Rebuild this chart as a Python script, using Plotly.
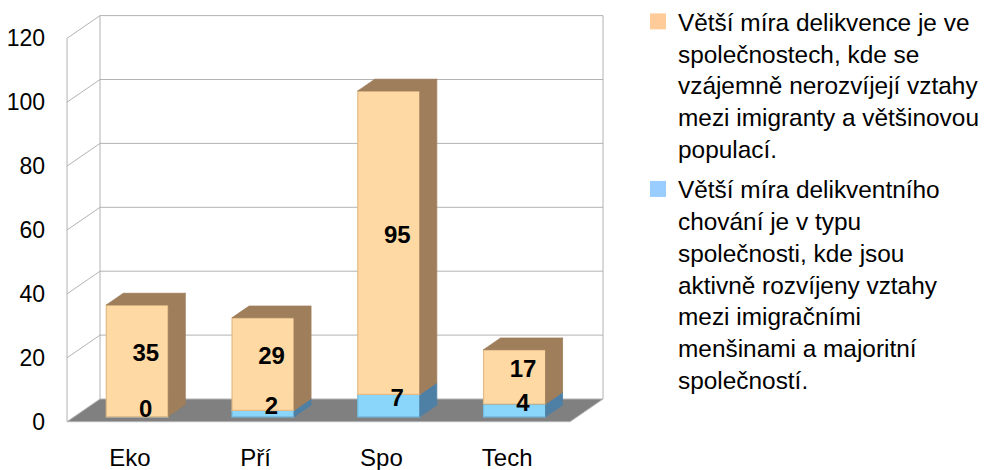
import plotly.graph_objects as go

# ---------------- data ----------------
categories = ["Eko", "Pří", "Spo", "Tech"]
blue_values = [0, 2, 7, 4]
orange_values = [35, 29, 95, 17]
y_ticks = [0, 20, 40, 60, 80, 100, 120]
orange_name = ("Větší míra delikvence je ve<br>společnostech, kde se<br>"
               "vzájemně nerozvíjejí vztahy<br>mezi imigranty a většinovou<br>populací.")
blue_name = ("Větší míra delikventního<br>chování je v typu<br>společnosti, kde jsou<br>"
             "aktivně rozvíjeny vztahy<br>mezi imigračními<br>menšinami a majoritní<br>společností.")

# ---------------- geometry (pixels, page has an 8px body margin) ----------------
OFF = 8
W, H = 1002 - 2 * OFF, 470 - OFF
X0_PX, X_STEP = 129.9 - OFF, 125.75   # centre of first category on the front plane, px per category
Y0_PX, Y_STEP = 421.7 - OFF, 3.195    # value 0 on the front plane, px per unit
WALL_DX, WALL_DY = 33 / X_STEP, 22.7 / Y_STEP      # front -> back wall offset (data units)
BAR_DX, BAR_DY = 7.4 / X_STEP, 4.9 / Y_STEP        # front plane -> bar front faces
DEP_DX, DEP_DY = 17 / X_STEP, 11.7 / Y_STEP        # bar depth
BAR_W = 62 / X_STEP

x_range = [(0 - X0_PX) / X_STEP, (W - X0_PX) / X_STEP]
y_range = [(Y0_PX - H) / Y_STEP, Y0_PX / Y_STEP]

FONT = "Liberation Sans"
GRID = "#b3b3b3"
ORANGE_FRONT, ORANGE_EDGE, ORANGE_DARK = "#ffd9a3", "#e2bb86", "#9f7e5c"
BLUE_FRONT, BLUE_EDGE, BLUE_DARK = "#8ad6fb", "#72bde3", "#4e7fa4"
ORANGE_LEG, BLUE_LEG = "#ffcc99", "#99ccff"

n = len(categories)
left, right = -0.5, n - 0.5
top_val = y_ticks[-1]

fig = go.Figure()

# ---- walls: back gridlines, side diagonals, edges ----
gx, gy = [], []
for v in y_ticks[1:]:
    gx += [left + WALL_DX, right + WALL_DX, None]
    gy += [v + WALL_DY, v + WALL_DY, None]
    gx += [left, left + WALL_DX, None]
    gy += [v, v + WALL_DY, None]
gx += [left, left, None, left + WALL_DX, left + WALL_DX, None, right + WALL_DX, right + WALL_DX, None]
gy += [0, top_val, None, WALL_DY, top_val + WALL_DY, None, WALL_DY, top_val + WALL_DY, None]
fig.add_trace(go.Scatter(x=gx, y=gy, mode="lines", line=dict(color=GRID, width=1),
                         hoverinfo="skip", showlegend=False, zorder=0))

# ---- floor ----
fig.add_trace(go.Scatter(
    x=[left, right, right + WALL_DX, left + WALL_DX, left],
    y=[0, 0, WALL_DY, WALL_DY, 0],
    mode="lines", fill="toself", fillcolor="#808080",
    line=dict(color=GRID, width=1), hoverinfo="skip", showlegend=False, zorder=0))

# ---- bars ----
xc = [i + BAR_DX for i in range(n)]
blue_base = [BAR_DY for _ in range(n)]
orange_base = [BAR_DY + b for b in blue_values]


def faces(bases, values):
    xs, ys = [], []
    for i in range(n):
        b = bases[i]
        t = bases[i] + values[i]
        L = xc[i] - BAR_W / 2
        R = xc[i] + BAR_W / 2
        xs += [R, R, R + DEP_DX, R + DEP_DX, R, None]
        ys += [b, t, t + DEP_DY, b + DEP_DY, b, None]
        xs += [L, R, R + DEP_DX, L + DEP_DX, L, None]
        ys += [t, t, t + DEP_DY, t + DEP_DY, t, None]
    return xs, ys


fig.add_trace(go.Bar(x=xc, y=blue_values, base=blue_base, width=BAR_W,
                     marker=dict(color=BLUE_FRONT, line=dict(color=BLUE_EDGE, width=1.2)),
                     showlegend=False, zorder=1, hoverinfo="skip"))
bx, by = faces(blue_base, blue_values)
fig.add_trace(go.Scatter(x=bx, y=by, mode="lines", fill="toself", fillcolor=BLUE_DARK,
                         line=dict(color=BLUE_DARK, width=0.8), hoverinfo="skip",
                         showlegend=False, zorder=2))
fig.add_trace(go.Bar(x=xc, y=orange_values, base=orange_base, width=BAR_W,
                     marker=dict(color=ORANGE_FRONT, line=dict(color=ORANGE_EDGE, width=1.2)),
                     showlegend=False, zorder=3, hoverinfo="skip"))
ox, oy = faces(orange_base, orange_values)
fig.add_trace(go.Scatter(x=ox, y=oy, mode="lines", fill="toself", fillcolor=ORANGE_DARK,
                         line=dict(color=ORANGE_DARK, width=0.8), hoverinfo="skip",
                         showlegend=False, zorder=4))

# ---- value labels (3D centre of each segment) ----
lx = [x + DEP_DX / 2 for x in xc] * 2
ly = ([blue_base[i] + blue_values[i] / 2 + DEP_DY / 2 for i in range(n)] +
      [orange_base[i] + orange_values[i] / 2 + DEP_DY / 2 for i in range(n)])
lt = [str(v) for v in blue_values] + [str(v) for v in orange_values]
fig.add_trace(go.Scatter(x=lx, y=ly, mode="text", text=lt,
                         textfont=dict(family=FONT, size=24, color="black", weight="bold"),
                         hoverinfo="skip", showlegend=False, zorder=5))

# ---- legend entries ----
fig.add_trace(go.Scatter(x=[None], y=[None], mode="markers", name=orange_name,
                         marker=dict(symbol="square", size=16, color=ORANGE_LEG), legendgroup="a"))
fig.add_trace(go.Scatter(x=[None], y=[None], mode="markers", name=blue_name,
                         marker=dict(symbol="square", size=16, color=BLUE_LEG), legendgroup="b"))

# ---- axes carrying the labels ----
fig.add_trace(go.Scatter(x=[None], y=[None], xaxis="x2", yaxis="y2",
                         showlegend=False, hoverinfo="skip"))

fig.update_layout(
    width=W, height=H,
    margin=dict(l=0, r=0, t=0, b=0, autoexpand=False),
    paper_bgcolor="white", plot_bgcolor="rgba(0,0,0,0)",
    barmode="overlay",
    font=dict(family=FONT, size=24, color="black"),
    xaxis=dict(range=x_range, visible=False, fixedrange=True),
    yaxis=dict(range=y_range, visible=False, fixedrange=True),
    xaxis2=dict(range=x_range, overlaying="x", anchor="free", position=1 - Y0_PX / H,
                side="bottom", tickvals=list(range(n)), ticktext=categories,
                showgrid=False, zeroline=False, showline=False, ticks="",
                ticklabelstandoff=19, tickfont=dict(family=FONT, size=24, color="black"),
                fixedrange=True),
    yaxis2=dict(range=y_range, overlaying="y", anchor="free", position=(67 - OFF) / W,
                side="left", tickvals=y_ticks, showgrid=False, zeroline=False,
                showline=False, ticks="", ticklabelstandoff=22,
                tickfont=dict(family=FONT, size=23, color="black"), fixedrange=True),
    legend=dict(x=(638 - OFF) / W, y=1 + 9 / H, xanchor="left", yanchor="top", valign="top",
                font=dict(family=FONT, size=24.4, color="black"), maxheight=1000,
                tracegroupgap=6, bgcolor="rgba(0,0,0,0)", itemclick=False),
    showlegend=True,
)

fig.write_html("out.html")
